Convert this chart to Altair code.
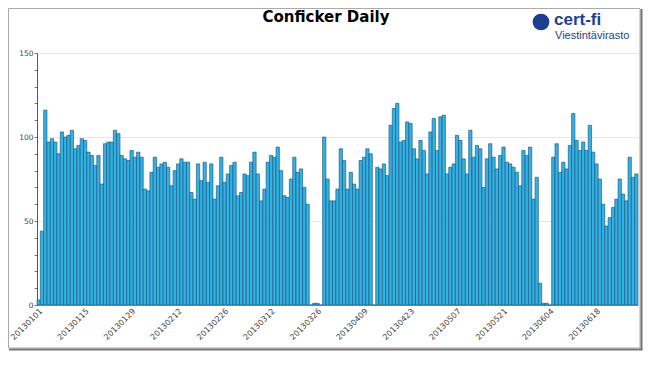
import altair as alt
import pandas as pd

# ---- data -------------------------------------------------------------
dates = pd.date_range("2013-01-01", periods=181).strftime("%Y%m%d").tolist()

counts = [
    3, 44, 116, 97, 99, 97, 90, 103, 100, 101,
    104, 93, 95, 99, 98, 91, 89, 83, 89, 72,
    96, 97, 97, 104, 102, 89, 87, 86, 92, 88,
    91, 88, 69, 68, 79, 88, 82, 84, 85, 82,
    71, 80, 84, 87, 85, 85, 67, 63, 84, 74,
    85, 73, 84, 63, 71, 88, 73, 78, 83, 85,
    65, 67, 78, 77, 85, 91, 78, 62, 69, 85,
    89, 88, 94, 80, 65, 64, 75, 88, 79, 81,
    70, 60, 0, 1, 1, 0, 100, 75, 62, 62,
    69, 93, 86, 69, 79, 72, 69, 86, 88, 93,
    90, 0, 82, 81, 84, 77, 107, 117, 120, 97,
    98, 109, 108, 93, 87, 98, 92, 78, 103, 111,
    92, 112, 113, 78, 82, 84, 101, 98, 87, 78,
    104, 88, 95, 93, 70, 87, 96, 88, 81, 89,
    94, 85, 84, 82, 79, 71, 92, 89, 94, 63,
    76, 13, 1, 1, 0, 88, 96, 79, 85, 81,
    95, 114, 98, 92, 97, 92, 107, 91, 84, 75,
    60, 47, 52, 58, 63, 75, 66, 62, 88, 76,
    78,
]

tick_labels = ["20130101", "20130115", "20130129", "20130212", "20130226",
               "20130312", "20130326", "20130409", "20130423", "20130507",
               "20130521", "20130604", "20130618"]
y_ticks = [0, 10, 20, 30, 40, 50, 60, 70, 80, 90, 100, 110, 120, 130, 140, 150]

title_text = ["Conficker Daily"]
logo_main = ["cert-fi"]
logo_sub = ["Viestintävirasto"]

df = pd.DataFrame({"date": dates, "count": counts})

FONT = "DejaVu Sans"

bars = alt.Chart(df).mark_bar(
    fill="#30b2e6", stroke="#1f4e6b", strokeWidth=0.6
).encode(
    x=alt.X("date:O", sort=None, title=None,
            scale=alt.Scale(paddingInner=0, paddingOuter=0),
            axis=alt.Axis(values=tick_labels, labelAngle=-45, labelAlign="right",
                          labelBaseline="top", labelPadding=2, ticks=False,
                          labelFont=FONT, labelFontSize=8, labelColor="#444",
                          domainColor="#999", labelOverlap=False)),
    y=alt.Y("count:Q", title=None,
            scale=alt.Scale(domain=[0, 150], nice=False),
            axis=alt.Axis(values=y_ticks,
                          labelExpr="datum.value % 50 == 0 ? datum.label : ''",
                          grid=True, gridColor="#e6e6e6",
                          gridOpacity={"condition": {"test": "datum.value % 50 === 0", "value": 1}, "value": 0},
                          tickSize=3, tickColor="#777", labelPadding=1,
                          labelFont=FONT, labelFontSize=7.5, labelColor="#444",
                          domainColor="#555")),
)

title = alt.Chart(pd.DataFrame({"t": title_text})).mark_text(
    font=FONT, fontSize=15, fontWeight="bold", color="#000", align="center",
    baseline="alphabetic"
).encode(x=alt.value(289), y=alt.value(-31), text="t:N")

globe = alt.Chart(pd.DataFrame({"t": logo_main})).mark_point(
    shape="circle", filled=True, color="#1d3f8f", opacity=1, size=280
).encode(x=alt.value(504), y=alt.value(-31))

cert = alt.Chart(pd.DataFrame({"t": logo_main})).mark_text(
    font="Liberation Sans", fontSize=17, fontWeight="bold", color="#1d3f8f",
    align="left", baseline="alphabetic"
).encode(x=alt.value(517), y=alt.value(-28), text="t:N")

sub = alt.Chart(pd.DataFrame({"t": logo_sub})).mark_text(
    font="Liberation Sans", fontSize=11, color="#1d3f8f",
    align="left", baseline="alphabetic"
).encode(x=alt.value(518), y=alt.value(-14), text="t:N")

frame = alt.Chart(pd.DataFrame({"t": title_text})).mark_rect(
    fill="transparent", stroke="#aaa", strokeWidth=1
).encode(x=alt.value(-28.5), x2=alt.value(603), y=alt.value(-44.5), y2=alt.value(295))

shadow_r = alt.Chart(pd.DataFrame({"t": title_text})).mark_rule(
    color="#777", strokeWidth=2
).encode(x=alt.value(604.5), y=alt.value(-44), y2=alt.value(297))

shadow_b = alt.Chart(pd.DataFrame({"t": title_text})).mark_rule(
    color="#777", strokeWidth=2
).encode(x=alt.value(-28), x2=alt.value(605.5), y=alt.value(296.5))

chart = alt.layer(frame, shadow_r, shadow_b, bars, title, globe, cert, sub).properties(
    width=601, height=252,
    padding={"left": 29, "top": 45, "right": 5, "bottom": 50},
    autosize="none",
).configure_view(stroke=None)

chart.save("out.html", embed_options={"renderer": "svg", "actions": False})
